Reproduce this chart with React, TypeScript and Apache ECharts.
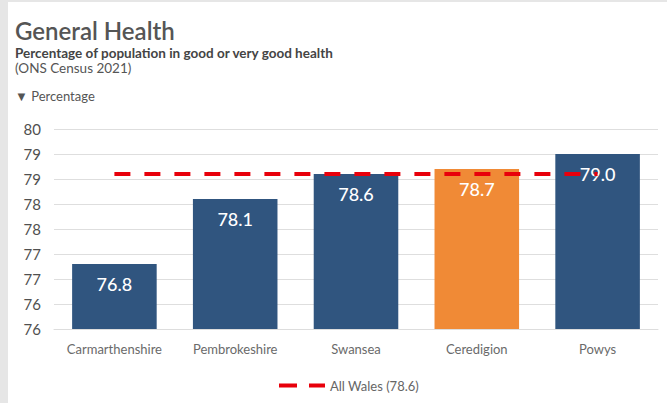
import React, { useEffect, useRef } from "react";
import * as echarts from "echarts";

const categories = ["Carmarthenshire", "Pembrokeshire", "Swansea", "Ceredigion", "Powys"];
const values = [76.8, 78.1, 78.6, 78.7, 79.0];
const highlight = "Ceredigion";
const allWales = 78.6;
const yMin = 75.5;
const yMax = 79.5;
const yInterval = 0.5;

const NAVY = "#30557f";
const ORANGE = "#f08a36";
const RED = "#e8000b";
const FONT = "Lato, 'Noto Sans', sans-serif";

export default function App() {
  const ref = useRef<HTMLDivElement>(null);
  useEffect(() => {
    if (!ref.current) return;
    const chart = echarts.init(ref.current, undefined, { renderer: "svg" });
    chart.setOption({
      animation: false,
      textStyle: { fontFamily: FONT },
      graphic: [
        { type: "text", left: 7, top: 16, style: { text: "General Health", font: `600 24px ${FONT}`, fill: "#555" } },
        { type: "text", left: 7, top: 44, style: { text: "Percentage of population in good or very good health", font: `700 13.5px ${FONT}`, fill: "#444" } },
        { type: "text", left: 7, top: 59, style: { text: "(ONS Census 2021)", font: `400 13.5px ${FONT}`, fill: "#555" } },
        { type: "text", left: 7, top: 87, style: { text: "▼ Percentage", font: `400 13px ${FONT}`, fill: "#555" } },
      ],
      grid: { left: 46, right: 9, top: 127, bottom: 74, containLabel: false },
      legend: {
        left: 264,
        top: 372,
        itemWidth: 46,
        itemHeight: 14,
        itemGap: 7,
        itemStyle: { opacity: 0, borderWidth: 0 },
        lineStyle: { type: [18, 12], width: 4, color: RED, opacity: 1 },
        textStyle: { fontFamily: FONT, fontSize: 13, color: "#666" },
        data: [`All Wales (${allWales.toFixed(1)})`],
      },
      xAxis: {
        type: "category",
        data: categories,
        axisTick: { show: false },
        axisLine: { show: true, lineStyle: { color: "#ddd" } },
        axisLabel: { color: "#6a6a6a", fontSize: 13, margin: 13, fontFamily: FONT, interval: 0 },
      },
      yAxis: {
        type: "value",
        min: yMin,
        max: yMax,
        interval: yInterval,
        axisLine: { show: false },
        axisTick: { show: false },
        splitLine: { lineStyle: { color: "#dedede", width: 1 } },
        axisLabel: {
          color: "#505050",
          fontSize: 15,
          margin: 13,
          fontFamily: FONT,
          formatter: (v: number) => String(Math.round(v)),
        },
      },
      series: [
        {
          type: "bar",
          barWidth: "70%",
          data: values.map((v, i) => ({
            value: v,
            itemStyle: { color: categories[i] === highlight ? ORANGE : NAVY },
          })),
          label: {
            show: true,
            position: "insideTop",
            distance: 11,
            color: "#fff",
            fontSize: 18,
            fontWeight: 500,
            fontFamily: FONT,
            formatter: (p: any) => Number(p.value).toFixed(1),
          },
        },
        {
          type: "line",
          name: `All Wales (${allWales.toFixed(1)})`,
          data: categories.map(() => allWales),
          symbol: "none",
          z: 3,
          lineStyle: { color: RED, width: 4, type: [16, 14] },
          itemStyle: { color: RED },
        },
      ],
    });
    return () => chart.dispose();
  }, []);
  return (
    <div style={{ position: "fixed", left: 0, top: 0, width: 667, height: 403, background: "#e6e6e6" }}>
      <div
        ref={ref}
        style={{ position: "absolute", left: 8, top: 2, width: 659, height: 401, background: "#fff" }}
      />
    </div>
  );
}
